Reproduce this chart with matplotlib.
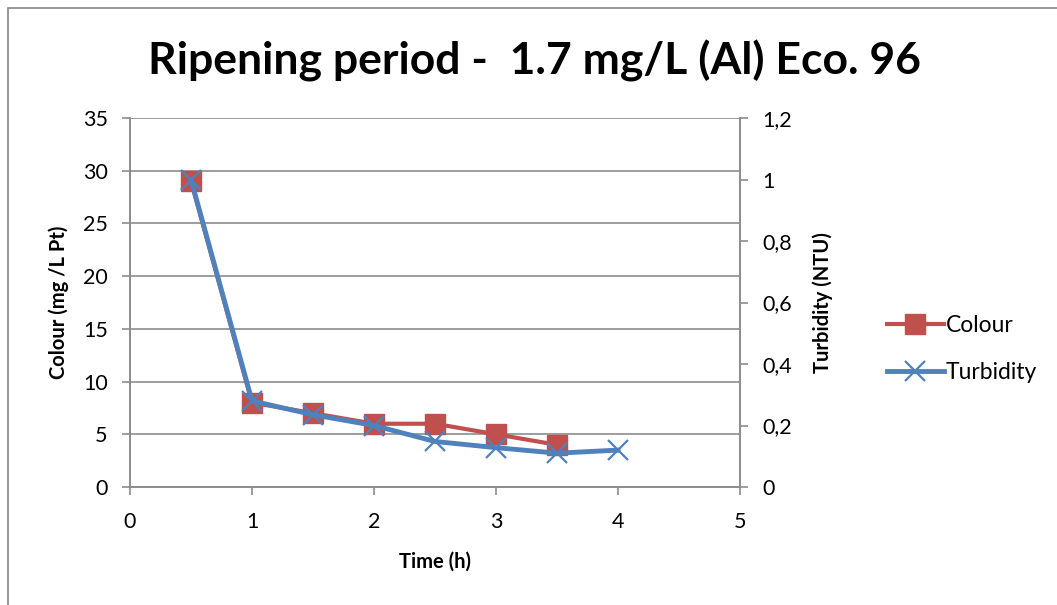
import numpy as np
import matplotlib.pyplot as plt
from matplotlib.patches import Rectangle

# data
time_h = [0.5, 1, 1.5, 2, 2.5, 3, 3.5, 4]
colour = [29, 8, 7, 6, 6, 5, 4]
turbidity = [1.0, 0.28, 0.235, 0.20, 0.148, 0.128, 0.11, 0.12]

left_ticks = [0, 5, 10, 15, 20, 25, 30, 35]
right_ticks = [0, 0.2, 0.4, 0.6, 0.8, 1.0, 1.2]
right_labels = ['0', '0,2', '0,4', '0,6', '0,8', '1', '1,2']
x_ticks = [0, 1, 2, 3, 4, 5]

red = '#C0504D'
blue = '#4F81BD'
grid_c = '#8C8C8C'

plt.rcParams['font.family'] = ['Lato', 'DejaVu Sans']

fig = plt.figure(figsize=(10.57, 6.05), dpi=100)
# outer chart frame
fig.patches.append(Rectangle((8 / 1057, -0.05), 1.1, 1 - 8 / 605 + 0.05,
                             transform=fig.transFigure, fill=False,
                             edgecolor='#878787', lw=1.2))

ax = fig.add_axes([130 / 1057, 1 - 487 / 605, 610 / 1057, 369 / 605])
ax2 = ax.twinx()

ln1, = ax.plot(time_h[:len(colour)], colour, color=red, lw=3, marker='s',
               markersize=14, markeredgecolor=red, label='Colour', zorder=3)
ln2, = ax2.plot(time_h, turbidity, color=blue, lw=3.5, marker='x',
                markersize=14, markeredgewidth=1.6, label='Turbidity', zorder=3)

ax.set_xlim(0, 5)
ax.set_ylim(0, 35)
ax2.set_ylim(0, 1.2)
ax.set_xticks(x_ticks)
ax.set_yticks(left_ticks)
ax2.set_yticks(right_ticks)
ax2.set_yticklabels(right_labels)

ax.yaxis.grid(True, color=grid_c, lw=1.2)
ax.set_axisbelow(True)

for a in (ax, ax2):
    for s in a.spines.values():
        s.set_color(grid_c)
        s.set_linewidth(1.2)
    a.spines['top'].set_visible(False)
    a.tick_params(colors=grid_c, labelcolor='black', labelsize=15.5,
                  length=6, width=1.2, direction='out', pad=10)
ax.tick_params(axis='x', pad=12)

fig.text(535 / 1057, 1 - 75 / 605, 'Ripening period -  1.7 mg/L (Al) Eco. 96',
         fontsize=32, fontweight='bold', ha='center', va='baseline')

ax.set_xlabel('Time (h)', fontsize=14.5, fontweight='bold', va='center')
ax.xaxis.set_label_coords(0.5, (487 - 562) / 369)
ax.set_ylabel('Colour (mg /L Pt)', fontsize=14.5, fontweight='bold', va='center')
ax.yaxis.set_label_coords((59 - 130) / 610, 0.5)
ax2.set_ylabel('Turbidity (NTU)', fontsize=14.5, fontweight='bold', va='center')
ax2.yaxis.set_label_coords((823 - 130) / 610, 0.5)

fig.legend([ln1, ln2], ['Colour', 'Turbidity'], loc='center left',
           bbox_to_anchor=(866 / 1057, 1 - 349 / 605), frameon=False,
           fontsize=16.5, handlelength=2.5, labelspacing=1.15, handletextpad=0.08)

fig.savefig('out.png', dpi=100)
